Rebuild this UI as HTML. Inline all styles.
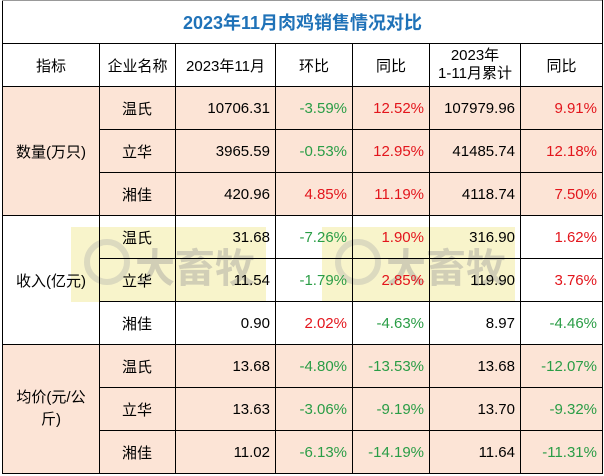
<!DOCTYPE html>
<html><head><meta charset="utf-8"><style>
body{margin:0;width:604px;height:476px;background:#fff;overflow:hidden;font-family:"Liberation Sans","Noto Sans CJK SC",sans-serif;}
table{position:absolute;left:2px;top:0;border-collapse:collapse;table-layout:fixed;z-index:1;}
td{border:1px solid #000;height:42px;padding:0;font-size:15px;color:#000;}
.t{color:#1f72b8;font-size:18px;font-weight:bold;text-align:center;border-top-color:#999;}
.h{text-align:center;}
.n{padding-left:22px;text-align:left;}
.r{text-align:right;padding-right:5px;}
.p{background:#fce4d6;}
.g{color:#2a9d46;}.d{color:#e3151c;}
.wm{position:absolute;background:rgba(240,230,140,0.45);z-index:0;}
.wt{position:absolute;font-size:40px;font-weight:bold;color:rgba(150,150,150,0.4);z-index:0;}
.wc{position:absolute;width:34px;height:34px;border:6px solid rgba(170,170,170,0.35);border-radius:50%;z-index:0;}
</style></head><body>
<table>
<colgroup><col style="width:97px"><col style="width:76px"><col style="width:100px"><col style="width:77px"><col style="width:77px"><col style="width:91px"><col style="width:82px"></colgroup>
<tr><td colspan="7" class="t">2023年11月肉鸡销售情况对比</td></tr>
<tr><td class="h">指标</td><td class="h">企业名称</td><td class="h">2023年11月</td><td class="h">环比</td><td class="h">同比</td><td class="h" style="line-height:18px">2023年<br>1-11月累计</td><td class="h">同比</td></tr>
<tr class="p"><td rowspan="3" class="h">数量(万只)</td><td class="n">温氏</td><td class="r">10706.31</td><td class="r g">-3.59%</td><td class="r d">12.52%</td><td class="r">107979.96</td><td class="r d">9.91%</td></tr>
<tr class="p"><td class="n">立华</td><td class="r">3965.59</td><td class="r g">-0.53%</td><td class="r d">12.95%</td><td class="r">41485.74</td><td class="r d">12.18%</td></tr>
<tr class="p"><td class="n">湘佳</td><td class="r">420.96</td><td class="r d">4.85%</td><td class="r d">11.19%</td><td class="r">4118.74</td><td class="r d">7.50%</td></tr>
<tr><td rowspan="3" class="h">收入(亿元)</td><td class="n">温氏</td><td class="r">31.68</td><td class="r g">-7.26%</td><td class="r d">1.90%</td><td class="r">316.90</td><td class="r d">1.62%</td></tr>
<tr><td class="n">立华</td><td class="r">11.54</td><td class="r g">-1.79%</td><td class="r d">2.85%</td><td class="r">119.90</td><td class="r d">3.76%</td></tr>
<tr><td class="n">湘佳</td><td class="r">0.90</td><td class="r d">2.02%</td><td class="r g">-4.63%</td><td class="r">8.97</td><td class="r g">-4.46%</td></tr>
<tr class="p"><td rowspan="3" class="h" style="line-height:22px">均价(元/公<br>斤)</td><td class="n">温氏</td><td class="r">13.68</td><td class="r g">-4.80%</td><td class="r g">-13.53%</td><td class="r">13.68</td><td class="r g">-12.07%</td></tr>
<tr class="p"><td class="n">立华</td><td class="r">13.63</td><td class="r g">-3.06%</td><td class="r g">-9.19%</td><td class="r">13.70</td><td class="r g">-9.32%</td></tr>
<tr class="p"><td class="n">湘佳</td><td class="r">11.02</td><td class="r g">-6.13%</td><td class="r g">-14.19%</td><td class="r">11.64</td><td class="r g">-11.31%</td></tr>
</table>
<div class="wm" style="left:71px;top:227px;width:195px;height:75px"></div>
<div class="wm" style="left:322px;top:227px;width:193px;height:75px"></div>
<div class="wc" style="left:84px;top:239px"></div>
<div class="wc" style="left:335px;top:239px"></div>
<div class="wt" style="left:135px;top:236px">大畜牧</div>
<div class="wt" style="left:386px;top:236px">大畜牧</div>
</body></html>
